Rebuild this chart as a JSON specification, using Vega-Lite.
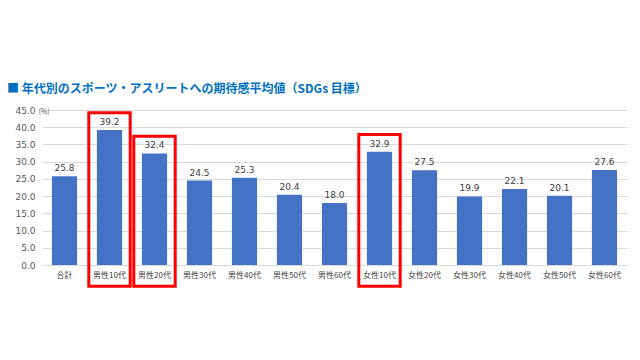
{
  "$schema": "https://vega.github.io/schema/vega-lite/v6.json",
  "autosize": {"type": "none"},
  "width": 585,
  "height": 155,
  "padding": {"left": 42, "top": 110, "right": 13, "bottom": 95},
  "background": "white",
  "config": {
    "view": {"stroke": null},
    "font": "Noto Sans CJK JP",
    "axisY": {
      "titleAngle": 0,
      "titleX": -4,
      "titleY": 1,
      "titleAlign": "left",
      "titleBaseline": "middle",
      "titleFontSize": 7,
      "titleFontWeight": "normal",
      "titleColor": "#595959",
      "tickCount": 10,
      "labelOverlap": false,
      "format": ".1f",
      "ticks": false,
      "domain": false,
      "labelPadding": 7,
      "labelFontSize": 9,
      "labelColor": "#595959",
      "gridColor": "#d9d9d9",
      "labelFont": "DejaVu Sans"
    }
  },
  "title": {
    "text": "■ 年代別のスポーツ・アスリートへの期待感平均値（SDGs 目標）",
    "anchor": "start",
    "frame": "group",
    "dx": -35,
    "offset": 10,
    "fontSize": 12,
    "fontWeight": "bold",
    "color": "#0070c0",
    "font": "Noto Sans CJK JP"
  },
  "data": {
    "values": [
      {"group": "合計", "value": 25.8, "highlight": false},
      {"group": "男性10代", "value": 39.2, "highlight": true},
      {"group": "男性20代", "value": 32.4, "highlight": true},
      {"group": "男性30代", "value": 24.5, "highlight": false},
      {"group": "男性40代", "value": 25.3, "highlight": false},
      {"group": "男性50代", "value": 20.4, "highlight": false},
      {"group": "男性60代", "value": 18.0, "highlight": false},
      {"group": "女性10代", "value": 32.9, "highlight": true},
      {"group": "女性20代", "value": 27.5, "highlight": false},
      {"group": "女性30代", "value": 19.9, "highlight": false},
      {"group": "女性40代", "value": 22.1, "highlight": false},
      {"group": "女性50代", "value": 20.1, "highlight": false},
      {"group": "女性60代", "value": 27.6, "highlight": false}
    ]
  },
  "encoding": {
    "x": {
      "field": "group",
      "type": "nominal",
      "sort": null,
      "scale": {"paddingInner": 0, "paddingOuter": 0},
      "axis": {
        "title": null,
        "labelAngle": 0,
        "ticks": false,
        "labelPadding": 6,
        "labelFontSize": 8,
        "labelColor": "#404040",
        "domainColor": "#d9d9d9",
        "labelFont": "Noto Sans CJK JP"
      }
    },
    "y": {
      "field": "value",
      "type": "quantitative",
      "title": "(%)",
      "scale": {"domain": [0, 45]}
    }
  },
  "layer": [
    {
      "mark": {"type": "bar", "color": "#4472c4", "width": {"band": 0.56}}
    },
    {
      "mark": {"type": "text", "dy": -8, "fontSize": 9, "color": "#404040", "font": "DejaVu Sans"},
      "encoding": {
        "text": {"field": "value", "type": "quantitative", "format": ".1f"}
      }
    },
    {
      "transform": [
        {"filter": "datum.highlight"},
        {"calculate": "datum.value + 5", "as": "box_top"}
      ],
      "mark": {"type": "bar", "fill": null, "fillOpacity": 0, "stroke": "#ff0000", "strokeWidth": 3, "width": {"band": 0.92}},
      "encoding": {
        "y": {"field": "box_top", "type": "quantitative", "title": "(%)"},
        "y2": {"datum": -6.2}
      }
    }
  ]
}
